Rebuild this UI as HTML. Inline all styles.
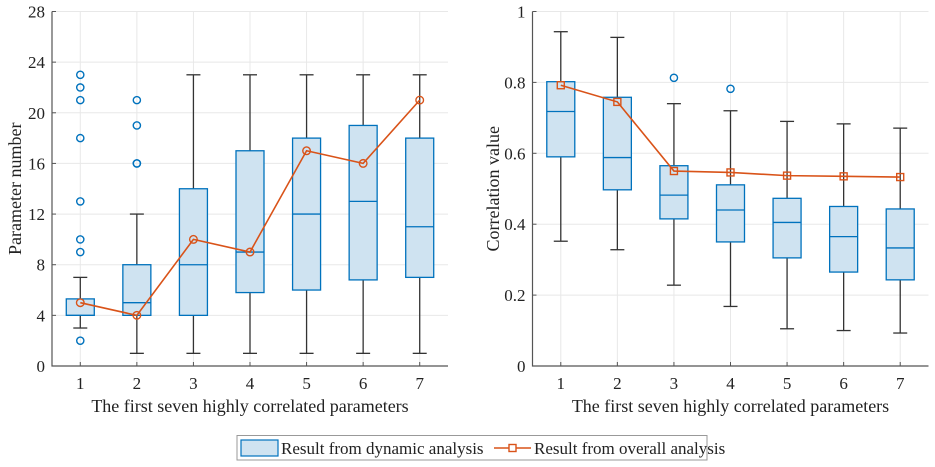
<!DOCTYPE html>
<html><head><meta charset="utf-8"><style>
body{margin:0;background:#fff;width:935px;height:467px;overflow:hidden}
svg{display:block;font-family:"Liberation Serif",serif}
</style></head><body>
<svg id="fig" width="935" height="467"></svg>
<script>
const categories=[1,2,3,4,5,6,7];
const leftQ1=[4,4,4,5.8,6,6.8,7];
const leftQ3=[5.3,8,14,17,18,19,18];
const leftMed=[4,5,8,9,12,13,11];
const leftLo=[3,1,1,1,1,1,1];
const leftHi=[7,12,23,23,23,23,23];
const leftOut=[[2,9,10,13,18,21,22,23],[16,16,19,21],[],[],[],[],[]];
const leftLine=[5,4,10,9,17,16,21];
const leftTicks=[0,4,8,12,16,20,24,28];
const rightQ1=[0.59,0.497,0.415,0.35,0.305,0.265,0.243];
const rightQ3=[0.802,0.758,0.565,0.511,0.473,0.45,0.443];
const rightMed=[0.718,0.588,0.482,0.44,0.405,0.365,0.333];
const rightLo=[0.352,0.328,0.228,0.168,0.105,0.1,0.093];
const rightHi=[0.943,0.927,0.74,0.72,0.69,0.683,0.671];
const rightOut=[[],[],[0.813],[0.782],[],[],[]];
const rightLine=[0.792,0.745,0.55,0.546,0.537,0.535,0.533];
const rightTicks=[0,0.2,0.4,0.6,0.8,1];
const NS="http://www.w3.org/2000/svg";
const svg=document.getElementById('fig');
function mk(tag,attrs,parent){const e=document.createElementNS(NS,tag);for(const k in attrs)e.setAttribute(k,attrs[k]);(parent||svg).appendChild(e);return e;}
function panel(o){
 const g=mk('g',{});
 
 
 const X=c=>o.x0+(c-0.5)/7*(o.x1-o.x0);
 const Y=v=>o.yb-(v-o.ymin)/(o.ymax-o.ymin)*(o.yb-o.yt);
 o.ticks.forEach(t=>{
  const gl=mk('line',{x1:o.x0,x2:o.x1,y1:Y(t),y2:Y(t),stroke:'#e8e8e8','stroke-width':1},g);
  
  const tl=mk('text',{x:o.x0-7,y:Y(t)+6,'text-anchor':'end','font-size':17,fill:'#222'},g);
  tl.textContent=String(t);
  
  mk('line',{x1:o.x0,x2:o.x0+4,y1:Y(t),y2:Y(t),stroke:'#555'},g);
 });
 categories.forEach(c=>{
  const gl=mk('line',{x1:X(c),x2:X(c),y1:o.yt,y2:o.yb,stroke:'#e8e8e8'},g);
  
  mk('line',{x1:X(c),x2:X(c),y1:o.yb,y2:o.yb-4,stroke:'#555'},g);
  const tl=mk('text',{x:X(c),y:o.yb+23,'text-anchor':'middle','font-size':17,fill:'#222'},g);
  tl.textContent=String(c);
  
 });
 const ax=mk('path',{d:`M${o.x0},${o.yt}V${o.yb}H${o.x1}`,fill:'none',stroke:'#555','stroke-width':1.2},g);
 
 const hw=14,cw=7;
 categories.forEach((c,i)=>{
  const x=X(c);
  const bg=mk('g',{},g);
  
  
  mk('line',{x1:x,x2:x,y1:Y(o.hi[i]),y2:Y(o.q3[i]),stroke:'#333','stroke-width':1.3},bg);
  mk('line',{x1:x,x2:x,y1:Y(o.q1[i]),y2:Y(o.lo[i]),stroke:'#333','stroke-width':1.3},bg);
  mk('line',{x1:x-cw,x2:x+cw,y1:Y(o.hi[i]),y2:Y(o.hi[i]),stroke:'#333','stroke-width':1.3},bg);
  mk('line',{x1:x-cw,x2:x+cw,y1:Y(o.lo[i]),y2:Y(o.lo[i]),stroke:'#333','stroke-width':1.3},bg);
  mk('rect',{x:x-hw,y:Y(o.q3[i]),width:2*hw,height:Y(o.q1[i])-Y(o.q3[i]),fill:'#cfe3f1',stroke:'#0072BD','stroke-width':1.3},bg);
  mk('line',{x1:x-hw,x2:x+hw,y1:Y(o.med[i]),y2:Y(o.med[i]),stroke:'#0072BD','stroke-width':1.3},bg);
  o.out[i].forEach(v=>{
   const oc=mk('circle',{cx:x,cy:Y(v),r:3.6,fill:'none',stroke:'#0072BD','stroke-width':1.4},g);
   
  });
 });
 const ln=mk('polyline',{points:categories.map((c,i)=>X(c)+','+Y(o.line[i])).join(' '),fill:'none',stroke:'#D95319','stroke-width':1.6},g);
 
 categories.forEach((c,i)=>{
  let m;
  if(o.marker==='circle')m=mk('circle',{cx:X(c),cy:Y(o.line[i]),r:3.8,fill:'none',stroke:'#D95319','stroke-width':1.4},g);
  else m=mk('rect',{x:X(c)-3.5,y:Y(o.line[i])-3.5,width:7,height:7,fill:'none',stroke:'#D95319','stroke-width':1.4},g);
  
 });
 const xt=mk('text',{x:(o.x0+o.x1)/2,y:o.yb+46,'text-anchor':'middle','font-size':18,fill:'#222'},g);
 xt.textContent='The first seven highly correlated parameters';
 
 const yt=mk('text',{x:0,y:0,transform:`translate(${o.ylx},${(o.yt+o.yb)/2}) rotate(-90)`,'text-anchor':'middle','font-size':18,fill:'#222'},g);
 yt.textContent=o.ylabel;
 
}
panel({name:'left-chart',x0:52,x1:448,yt:11.5,yb:366,ymin:0,ymax:28,ticks:leftTicks,q1:leftQ1,q3:leftQ3,med:leftMed,lo:leftLo,hi:leftHi,out:leftOut,line:leftLine,marker:'circle',ylabel:'Parameter number',ylx:21});
panel({name:'right-chart',x0:532.5,x1:928.5,yt:11.5,yb:366,ymin:0,ymax:1,ticks:rightTicks,q1:rightQ1,q3:rightQ3,med:rightMed,lo:rightLo,hi:rightHi,out:rightOut,line:rightLine,marker:'square',ylabel:'Correlation value',ylx:499});
</script>
<svg style="position:absolute;left:0;top:0" width="935" height="467">
<g font-family="Liberation Serif, serif">
<rect x="237" y="435.5" width="470" height="24.5" fill="#fff" stroke="#999" stroke-width="1"/>
<g>
<rect x="241" y="440" width="37" height="16" fill="#cfe3f1" stroke="#0072BD" stroke-width="1.2"/>
<text x="281" y="454" font-size="17" fill="#222">Result from dynamic analysis</text>
</g>
<g>
<line x1="494" x2="531" y1="448" y2="448" stroke="#D95319" stroke-width="1.6"/>
<rect x="509" y="444.5" width="7" height="7" fill="#fff" stroke="#D95319" stroke-width="1.4"/>
<text x="534" y="454" font-size="17" fill="#222">Result from overall analysis</text>
</g>
</g>
</svg>
</body></html>
